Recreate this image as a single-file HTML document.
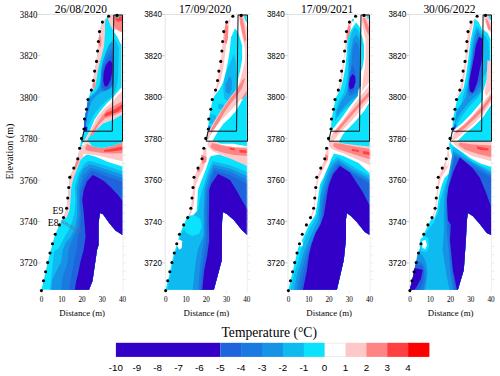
<!DOCTYPE html><html><head><meta charset="utf-8"><style>
html,body{margin:0;padding:0;background:#fff;width:500px;height:376px;overflow:hidden}
svg{display:block}
.serif{font-family:"Liberation Serif",serif}
.sans{font-family:"Liberation Sans",sans-serif}
</style></head><body>
<svg width="500" height="376" viewBox="0 0 500 376">

<g transform="translate(0,0)">
<path d="M41.4,290.6 L43.5,280.8 L45.6,271.7 L47.7,262.6 L50.0,253.0 L52.5,243.8 L55.2,234.3 L59.4,224.9 L63.5,217.6 L66.6,208.2 L67.8,198.0 L68.8,187.5 L69.8,177.2 L73.8,168.1 L77.8,158.8 L79.6,148.3 L81.5,138.4 L84.0,129.0 L84.5,119.0 L86.5,109.2 L88.0,99.5 L91.3,90.1 L93.3,80.5 L94.6,71.1 L96.5,61.4 L97.6,51.0 L98.4,41.5 L99.5,31.6 L102.4,22.1 L108.6,16.2 L108.6,15.2 L122.5,15.2 L122.5,234.9 L115.5,230.5 L109.2,223.0 L103.0,214.2 L99.9,213.0 L98.6,223.0 L98.6,245.0 L97.0,250.0 L92.5,281.0 L89.0,289.8 L41.4,289.8Z" fill="#0ae2fe"/>
<path d="M108.6,16.2 L102.4,22.1 L99.5,31.6 L98.4,41.5 L97.6,51.0 L96.5,61.4 L94.6,71.1 L93.3,80.5 L91.3,90.1 L90.5,92.0 L92.0,91.0 L95.0,88.0 L96.5,80.0 L98.0,70.0 L100.6,60.0 L104.0,46.6 L105.0,33.0 L105.0,25.0 L105.5,18.4 L107.0,16.5Z" fill="#ffc8c8"/>
<path d="M99.5,34.6 L101.3,38.0 L101.3,45.0 L100.0,48.0 L98.6,44.0 L98.6,38.0Z" fill="#ff8585"/>
<path d="M94.2,80.0 L95.5,83.0 L95.0,88.0 L93.4,89.0 L92.8,85.0Z" fill="#ff8585"/>
<path d="M108.0,15.2 L122.5,15.2 L122.5,48.0 L120.4,42.9 L117.0,36.0 L113.5,31.2 L110.1,24.8 L108.0,18.4Z" fill="#ffc8c8"/>
<path d="M114.5,30.0 L118.0,30.0 L122.5,33.0 L122.5,46.0 L120.4,42.9 L117.0,36.0 L114.0,32.0Z" fill="#ffffff"/>
<path d="M113.6,15.2 L122.5,15.2 L122.5,32.3 L119.0,31.0 L115.1,28.0 L113.2,22.0Z" fill="#ff8585"/>
<path d="M115.5,16.5 L122.0,16.5 L122.0,21.0 L118.0,21.5 L115.5,20.0Z" fill="#ff4040"/>
<path d="M116.0,15.5 L119.0,15.5 L118.6,18.0 L117.0,18.6Z" fill="#0ae2fe"/>
<path d="M121.3,40.0 L122.5,40.0 L122.5,88.0 L121.3,88.0Z" fill="#ffc8c8"/>
<path d="M113.3,38.0 L116.0,41.0 L118.8,48.0 L118.0,80.0 L116.0,90.0 L112.0,96.0 L106.0,101.0 L100.0,107.0 L95.0,113.0 L91.0,120.0 L88.0,127.0 L85.5,131.0 L84.2,131.0 L84.5,119.0 L86.5,109.2 L88.0,99.5 L89.5,99.0 L94.0,94.0 L98.0,88.0 L100.5,80.0 L102.0,70.0 L103.6,60.0 L105.5,53.3 L109.0,46.6Z" fill="#0ebaf0"/>
<path d="M110.5,42.5 L113.4,43.0 L113.4,86.0 L110.0,89.0 L106.0,91.0 L101.0,92.0 L96.0,96.0 L92.0,101.0 L89.0,108.0 L87.0,116.0 L85.5,125.0 L84.1,129.0 L84.5,119.0 L86.5,109.2 L88.0,99.5 L89.0,98.0 L92.0,95.0 L97.0,91.0 L100.0,86.0 L100.5,80.0 L101.0,70.0 L102.5,62.0 L105.0,55.0 L108.0,47.0Z" fill="#1594e6"/>
<path d="M111.5,49.0 L113.4,50.0 L113.4,84.0 L110.0,88.0 L106.0,90.5 L102.0,91.0 L100.5,86.0 L101.5,80.0 L101.5,72.0 L103.5,64.0 L107.0,56.0Z" fill="#1a7ae0"/>
<path d="M90.0,104.0 L88.5,110.0 L87.0,118.0 L85.5,127.0 L84.1,129.0 L84.5,119.0 L86.5,109.2 L88.0,101.0Z" fill="#1a7ae0"/>
<path d="M111.5,55.0 L113.4,57.0 L113.4,76.0 L112.0,84.0 L108.5,89.0 L104.5,90.0 L102.0,87.0 L102.0,76.0 L103.5,67.0 L107.0,60.0Z" fill="#1f64dc"/>
<path d="M87.0,118.0 L86.0,125.0 L84.2,129.5 L84.5,121.0Z" fill="#1f64dc"/>
<path d="M110.5,60.5 L112.4,63.5 L112.3,72.0 L110.5,80.0 L107.5,85.9 L104.8,86.5 L103.3,81.0 L103.6,73.0 L105.5,66.0 L108.0,62.0Z" fill="#3300c8"/>
<path d="M84.5,126.0 L87.5,127.5 L87.0,131.0 L84.0,131.0Z" fill="#3300c8"/>
<path d="M122.5,87.0 L120.0,89.0 L113.3,97.0 L106.6,103.6 L100.0,111.6 L94.6,119.6 L90.7,129.0 L87.0,136.0 L83.0,143.0 L81.3,145.0 L84.5,146.0 L88.0,138.0 L92.0,133.0 L96.0,130.3 L102.6,123.6 L113.3,119.6 L122.5,114.3Z" fill="#ffffff"/>
<path d="M122.5,91.0 L120.0,93.0 L112.0,102.3 L104.0,109.0 L97.3,117.0 L93.3,125.0 L89.5,132.0 L85.5,139.0 L83.8,144.0 L85.5,145.0 L88.0,138.0 L92.0,133.0 L96.0,130.3 L102.6,123.6 L113.3,119.6 L122.5,114.3Z" fill="#ffc8c8"/>
<path d="M122.5,101.0 L113.3,106.3 L106.6,110.3 L101.3,117.0 L96.0,125.0 L92.0,131.6 L90.0,135.0 L93.3,135.0 L98.6,125.0 L105.3,118.3 L113.3,115.6 L122.5,111.6Z" fill="#ff8585"/>
<path d="M113.3,110.0 L106.0,113.0 L104.0,116.0 L106.0,116.5 L113.3,113.5 L118.0,112.0 L122.5,108.0 L122.5,104.0Z" fill="#ff4040"/>
<path d="M84.0,144.0 L88.3,141.3 L122.5,141.3 L122.5,166.6 L108.2,162.0 L95.0,156.6 L87.0,154.6 L83.0,157.3 L80.3,160.0 L79.0,150.0Z" fill="#ffffff"/>
<path d="M85.5,144.0 L88.3,142.0 L92.3,146.6 L101.6,148.0 L112.2,146.0 L122.5,142.6 L122.5,161.2 L108.0,158.0 L95.0,155.0 L88.3,154.6 L84.0,154.0 L81.0,152.0 L80.0,148.0Z" fill="#ffc8c8"/>
<path d="M87.0,144.0 L92.3,146.6 L101.6,148.0 L112.2,146.0 L122.5,142.6 L122.5,153.2 L112.2,153.5 L103.9,153.2 L87.2,150.8 L85.0,149.0Z" fill="#ff8585"/>
<path d="M104.0,150.0 L110.0,149.0 L122.5,146.5 L122.5,150.0 L110.0,151.8 L104.0,151.8Z" fill="#ff4040"/>
<path d="M88.3,141.3 L122.5,141.3 L122.5,142.6 L112.2,146.0 L101.6,148.0 L92.3,146.6Z" fill="#0ae2fe"/>
<path d="M79.6,148.3 L82.0,146.0 L84.0,150.0 L83.0,157.3 L80.6,160.0 L76.9,169.4 L73.8,177.5 L72.0,183.8 L71.0,190.0 L70.6,200.0 L69.6,210.0 L66.5,218.0 L63.5,217.6 L66.6,208.2 L67.8,198.0 L68.8,187.5 L69.8,177.2 L73.8,168.1 L77.8,158.8Z" fill="#ffc8c8"/>
<path d="M78.3,156.0 L79.5,160.0 L77.0,166.0 L75.0,170.0 L74.5,167.0 L76.5,160.0Z" fill="#ff8585"/>
<path d="M71.0,174.0 L72.0,176.0 L70.5,180.0 L69.5,179.0Z" fill="#ff8585"/>
<path d="M74.8,186.6 L78.5,173.8 L84.0,164.0 L88.5,161.0 L92.0,161.5 L103.9,165.1 L121.9,171.1 L122.5,171.3 L122.5,234.9 L115.5,230.5 L109.2,223.0 L103.0,214.2 L99.9,213.0 L98.6,223.0 L98.6,245.0 L97.0,250.0 L92.5,281.0 L89.0,289.8 L50.0,289.8 L54.1,251.8 L58.4,248.6 L62.6,241.1 L65.0,236.0 L68.0,231.6 L72.0,222.0 L74.5,212.0 L75.5,200.0Z" fill="#0ebaf0"/>
<path d="M76.9,187.7 L80.0,175.0 L84.0,168.0 L89.1,164.5 L93.0,165.0 L103.9,168.5 L122.5,174.7 L122.5,234.9 L115.5,230.5 L109.2,223.0 L103.0,214.2 L99.9,213.0 L98.6,223.0 L98.6,245.0 L97.0,250.0 L92.5,281.0 L89.0,289.8 L51.4,289.8 L52.4,280.0 L54.8,274.0 L61.2,262.0 L62.8,250.0 L66.0,242.0 L70.0,238.0 L75.0,228.0 L77.0,215.0 L77.0,200.0Z" fill="#1594e6"/>
<path d="M79.0,189.8 L82.8,176.0 L90.2,168.0 L94.0,168.5 L104.0,172.0 L122.5,178.3 L122.5,234.9 L115.5,230.5 L109.2,223.0 L103.0,214.2 L99.9,213.0 L98.6,223.0 L98.6,245.0 L97.0,250.0 L92.5,281.0 L89.0,289.8 L61.2,289.8 L62.0,280.0 L63.6,274.0 L67.6,262.0 L68.4,250.0 L72.0,240.0 L77.5,228.0 L79.5,215.0 L79.0,200.0Z" fill="#1a7ae0"/>
<path d="M80.6,192.0 L84.9,179.0 L91.3,171.0 L95.0,171.5 L104.0,175.5 L122.5,182.0 L122.5,234.9 L115.5,230.5 L109.2,223.0 L103.0,214.2 L99.9,213.0 L98.6,223.0 L98.6,245.0 L97.0,250.0 L92.5,281.0 L89.0,289.8 L69.5,289.8 L70.8,280.0 L71.6,274.0 L74.0,262.0 L76.4,250.0 L78.0,237.0 L80.0,228.0 L81.0,215.0 L80.1,200.0Z" fill="#1f64dc"/>
<path d="M83.8,189.8 L87.0,181.3 L92.9,174.9 L97.0,177.0 L103.9,181.0 L110.5,187.0 L118.0,195.0 L122.5,201.0 L122.5,234.9 L115.5,230.5 L109.2,223.0 L103.0,214.2 L99.9,213.0 L98.6,223.0 L98.6,245.0 L97.0,250.0 L92.5,281.0 L89.0,289.8 L74.8,289.8 L76.4,280.0 L78.0,274.0 L80.4,262.0 L83.6,250.0 L85.5,237.0 L85.0,229.0 L83.5,210.0 L82.2,200.0Z" fill="#3300c8"/>
<line x1="40" y1="14.5" x2="126" y2="14.5" stroke="#d9d9d9" stroke-width="0.8"/>
<line x1="123" y1="14.5" x2="123" y2="291" stroke="#ececec" stroke-width="0.8"/>
<line x1="123" y1="14.3" x2="126" y2="14.3" stroke="#e4e4e4" stroke-width="0.7"/>
<line x1="123" y1="22.6" x2="126" y2="22.6" stroke="#e4e4e4" stroke-width="0.7"/>
<line x1="123" y1="30.9" x2="126" y2="30.9" stroke="#e4e4e4" stroke-width="0.7"/>
<line x1="123" y1="39.2" x2="126" y2="39.2" stroke="#e4e4e4" stroke-width="0.7"/>
<line x1="123" y1="47.5" x2="126" y2="47.5" stroke="#e4e4e4" stroke-width="0.7"/>
<line x1="123" y1="55.7" x2="126" y2="55.7" stroke="#e4e4e4" stroke-width="0.7"/>
<line x1="123" y1="64.0" x2="126" y2="64.0" stroke="#e4e4e4" stroke-width="0.7"/>
<line x1="123" y1="72.3" x2="126" y2="72.3" stroke="#e4e4e4" stroke-width="0.7"/>
<line x1="123" y1="80.6" x2="126" y2="80.6" stroke="#e4e4e4" stroke-width="0.7"/>
<line x1="123" y1="88.9" x2="126" y2="88.9" stroke="#e4e4e4" stroke-width="0.7"/>
<line x1="123" y1="97.2" x2="126" y2="97.2" stroke="#e4e4e4" stroke-width="0.7"/>
<line x1="123" y1="105.5" x2="126" y2="105.5" stroke="#e4e4e4" stroke-width="0.7"/>
<line x1="123" y1="113.8" x2="126" y2="113.8" stroke="#e4e4e4" stroke-width="0.7"/>
<line x1="123" y1="122.0" x2="126" y2="122.0" stroke="#e4e4e4" stroke-width="0.7"/>
<line x1="123" y1="130.3" x2="126" y2="130.3" stroke="#e4e4e4" stroke-width="0.7"/>
<line x1="123" y1="138.6" x2="126" y2="138.6" stroke="#e4e4e4" stroke-width="0.7"/>
<line x1="123" y1="146.9" x2="126" y2="146.9" stroke="#e4e4e4" stroke-width="0.7"/>
<line x1="123" y1="155.2" x2="126" y2="155.2" stroke="#e4e4e4" stroke-width="0.7"/>
<line x1="123" y1="163.5" x2="126" y2="163.5" stroke="#e4e4e4" stroke-width="0.7"/>
<line x1="123" y1="171.8" x2="126" y2="171.8" stroke="#e4e4e4" stroke-width="0.7"/>
<line x1="123" y1="180.1" x2="126" y2="180.1" stroke="#e4e4e4" stroke-width="0.7"/>
<line x1="123" y1="188.3" x2="126" y2="188.3" stroke="#e4e4e4" stroke-width="0.7"/>
<line x1="123" y1="196.6" x2="126" y2="196.6" stroke="#e4e4e4" stroke-width="0.7"/>
<line x1="123" y1="204.9" x2="126" y2="204.9" stroke="#e4e4e4" stroke-width="0.7"/>
<line x1="123" y1="213.2" x2="126" y2="213.2" stroke="#e4e4e4" stroke-width="0.7"/>
<line x1="123" y1="221.5" x2="126" y2="221.5" stroke="#e4e4e4" stroke-width="0.7"/>
<line x1="123" y1="229.8" x2="126" y2="229.8" stroke="#e4e4e4" stroke-width="0.7"/>
<line x1="123" y1="238.1" x2="126" y2="238.1" stroke="#e4e4e4" stroke-width="0.7"/>
<line x1="123" y1="246.4" x2="126" y2="246.4" stroke="#e4e4e4" stroke-width="0.7"/>
<line x1="123" y1="254.7" x2="126" y2="254.7" stroke="#e4e4e4" stroke-width="0.7"/>
<line x1="123" y1="262.9" x2="126" y2="262.9" stroke="#e4e4e4" stroke-width="0.7"/>
<line x1="123" y1="271.2" x2="126" y2="271.2" stroke="#e4e4e4" stroke-width="0.7"/>
<line x1="123" y1="279.5" x2="126" y2="279.5" stroke="#e4e4e4" stroke-width="0.7"/>
<line x1="41.5" y1="290.5" x2="41.5" y2="293" stroke="#e8e8e8" stroke-width="0.6"/>
<line x1="61.8" y1="290.5" x2="61.8" y2="293" stroke="#e8e8e8" stroke-width="0.6"/>
<line x1="82.0" y1="290.5" x2="82.0" y2="293" stroke="#e8e8e8" stroke-width="0.6"/>
<line x1="102.2" y1="290.5" x2="102.2" y2="293" stroke="#e8e8e8" stroke-width="0.6"/>
<line x1="122.5" y1="290.5" x2="122.5" y2="293" stroke="#e8e8e8" stroke-width="0.6"/>
<line x1="37.5" y1="14.3" x2="40.5" y2="14.3" stroke="#bbb" stroke-width="0.7"/>
<text class="serif" x="37.3" y="17.7" font-size="10.2" text-anchor="end" textLength="17.5" lengthAdjust="spacingAndGlyphs">3840</text>
<line x1="37.5" y1="55.7" x2="40.5" y2="55.7" stroke="#bbb" stroke-width="0.7"/>
<text class="serif" x="37.3" y="59.1" font-size="10.2" text-anchor="end" textLength="17.5" lengthAdjust="spacingAndGlyphs">3820</text>
<line x1="37.5" y1="97.2" x2="40.5" y2="97.2" stroke="#bbb" stroke-width="0.7"/>
<text class="serif" x="37.3" y="100.6" font-size="10.2" text-anchor="end" textLength="17.5" lengthAdjust="spacingAndGlyphs">3800</text>
<line x1="37.5" y1="138.6" x2="40.5" y2="138.6" stroke="#bbb" stroke-width="0.7"/>
<text class="serif" x="37.3" y="142.0" font-size="10.2" text-anchor="end" textLength="17.5" lengthAdjust="spacingAndGlyphs">3780</text>
<line x1="37.5" y1="180.1" x2="40.5" y2="180.1" stroke="#bbb" stroke-width="0.7"/>
<text class="serif" x="37.3" y="183.5" font-size="10.2" text-anchor="end" textLength="17.5" lengthAdjust="spacingAndGlyphs">3760</text>
<line x1="37.5" y1="221.5" x2="40.5" y2="221.5" stroke="#bbb" stroke-width="0.7"/>
<text class="serif" x="37.3" y="224.9" font-size="10.2" text-anchor="end" textLength="17.5" lengthAdjust="spacingAndGlyphs">3740</text>
<line x1="37.5" y1="262.9" x2="40.5" y2="262.9" stroke="#bbb" stroke-width="0.7"/>
<text class="serif" x="37.3" y="266.3" font-size="10.2" text-anchor="end" textLength="17.5" lengthAdjust="spacingAndGlyphs">3720</text>
<text class="serif" x="0" y="0" font-size="8" text-anchor="middle" transform="translate(41.50,301.8) scale(0.9,1)">0</text>
<text class="serif" x="0" y="0" font-size="8" text-anchor="middle" transform="translate(61.75,301.8) scale(0.9,1)">10</text>
<text class="serif" x="0" y="0" font-size="8" text-anchor="middle" transform="translate(82.00,301.8) scale(0.9,1)">20</text>
<text class="serif" x="0" y="0" font-size="8" text-anchor="middle" transform="translate(102.25,301.8) scale(0.9,1)">30</text>
<text class="serif" x="0" y="0" font-size="8" text-anchor="middle" transform="translate(122.50,301.8) scale(0.9,1)">40</text>
<text class="serif" x="82.2" y="315.8" font-size="8.8" text-anchor="middle">Distance (m)</text>
<text class="serif" x="54.8" y="13.4" font-size="13" textLength="52.2" lengthAdjust="spacingAndGlyphs">26/08/2020</text>
<path d="M113.8,15 L122.5,15 L122.5,141.2 L82,141.2 M113.8,15 L112.3,131.2 L83.8,131.2 L81.9,141.2" fill="none" stroke="#111" stroke-width="1"/>
<text class="serif" x="52.5" y="214" font-size="9.8" textLength="10.7" lengthAdjust="spacingAndGlyphs">E9</text>
<text class="serif" x="47.8" y="226" font-size="9.8" textLength="10.7" lengthAdjust="spacingAndGlyphs">E8</text>
<circle cx="62.00" cy="221.50" r="1.2" fill="none" stroke="#5d6c98" stroke-width="0.55"/>
<circle cx="64.50" cy="222.93" r="1.2" fill="none" stroke="#5d6c98" stroke-width="0.55"/>
<circle cx="67.00" cy="224.36" r="1.2" fill="none" stroke="#5d6c98" stroke-width="0.55"/>
<circle cx="69.50" cy="225.79" r="1.2" fill="none" stroke="#5d6c98" stroke-width="0.55"/>
<circle cx="72.00" cy="227.21" r="1.2" fill="none" stroke="#5d6c98" stroke-width="0.55"/>
<circle cx="74.50" cy="228.64" r="1.2" fill="none" stroke="#5d6c98" stroke-width="0.55"/>
<circle cx="77.00" cy="230.07" r="1.2" fill="none" stroke="#5d6c98" stroke-width="0.55"/>
<circle cx="79.50" cy="231.50" r="1.2" fill="none" stroke="#5d6c98" stroke-width="0.55"/>
<circle cx="108.6" cy="16.25" r="1.55" fill="#000"/>
<circle cx="117" cy="15.4" r="1.55" fill="#000"/>
<circle cx="102.4" cy="22.1" r="1.55" fill="#000"/>
<circle cx="99.5" cy="31.6" r="1.55" fill="#000"/>
<circle cx="98.4" cy="41.5" r="1.55" fill="#000"/>
<circle cx="97.6" cy="51" r="1.55" fill="#000"/>
<circle cx="96.5" cy="61.4" r="1.55" fill="#000"/>
<circle cx="94.6" cy="71.1" r="1.55" fill="#000"/>
<circle cx="93.3" cy="80.5" r="1.55" fill="#000"/>
<circle cx="91.3" cy="90.1" r="1.55" fill="#000"/>
<circle cx="88" cy="99.5" r="1.55" fill="#000"/>
<circle cx="86.5" cy="109.25" r="1.55" fill="#000"/>
<circle cx="84.5" cy="119" r="1.55" fill="#000"/>
<circle cx="84" cy="129" r="1.55" fill="#000"/>
<circle cx="81.5" cy="138.4" r="1.55" fill="#000"/>
<circle cx="79.6" cy="148.3" r="1.55" fill="#000"/>
<circle cx="77.75" cy="158.75" r="1.55" fill="#000"/>
<circle cx="73.75" cy="168.1" r="1.55" fill="#000"/>
<circle cx="69.75" cy="177.25" r="1.55" fill="#000"/>
<circle cx="68.75" cy="187.5" r="1.55" fill="#000"/>
<circle cx="67.75" cy="198" r="1.55" fill="#000"/>
<circle cx="66.6" cy="208.25" r="1.55" fill="#000"/>
<circle cx="63.5" cy="217.6" r="1.55" fill="#000"/>
<circle cx="59.4" cy="224.9" r="1.55" fill="#000"/>
<circle cx="55.25" cy="234.3" r="1.55" fill="#000"/>
<circle cx="52.5" cy="243.75" r="1.55" fill="#000"/>
<circle cx="50" cy="253" r="1.55" fill="#000"/>
<circle cx="47.7" cy="262.6" r="1.55" fill="#000"/>
<circle cx="45.6" cy="271.7" r="1.55" fill="#000"/>
<circle cx="43.5" cy="280.8" r="1.55" fill="#000"/>
<circle cx="41.4" cy="290.6" r="1.55" fill="#000"/>
</g>
<g transform="translate(124.25,0)">
<path d="M41.4,290.6 L43.5,280.8 L45.6,271.7 L47.7,262.6 L50.0,253.0 L52.5,243.8 L55.2,234.3 L59.4,224.9 L63.5,217.6 L66.6,208.2 L67.8,198.0 L68.8,187.5 L69.8,177.2 L73.8,168.1 L77.8,158.8 L79.6,148.3 L81.5,138.4 L84.0,129.0 L84.5,119.0 L86.5,109.2 L88.0,99.5 L91.3,90.1 L93.3,80.5 L94.6,71.1 L96.5,61.4 L97.6,51.0 L98.4,41.5 L99.5,31.6 L102.4,22.1 L108.6,16.2 L108.6,15.2 L122.5,15.2 L122.5,235.0 L117.6,230.0 L109.6,220.0 L102.6,214.0 L98.6,212.0 L97.8,222.0 L97.6,240.0 L97.6,260.0 L89.6,289.8 L41.4,289.8Z" fill="#ffffff"/>
<path d="M108.6,16.2 L102.4,22.1 L99.5,31.6 L98.4,41.5 L97.6,51.0 L96.5,61.4 L94.6,71.1 L93.3,80.5 L91.3,90.1 L88.0,97.0 L89.5,95.0 L93.0,89.0 L96.0,82.0 L98.8,69.5 L100.5,57.0 L102.0,45.0 L103.8,35.0 L104.5,25.0 L107.0,17.0Z" fill="#ffc8c8"/>
<path d="M101.5,22.0 L104.0,27.0 L103.8,38.0 L102.3,44.0 L100.2,42.5 L100.2,30.0Z" fill="#ff8585"/>
<path d="M110.7,28.6 L113.0,31.0 L115.0,36.0 L117.8,45.0 L117.8,60.0 L115.8,70.8 L113.5,80.0 L112.5,92.0 L110.0,97.0 L107.0,101.0 L104.6,104.0 L100.0,109.0 L96.5,116.5 L90.2,129.0 L85.2,136.5 L82.8,141.5 L81.5,138.4 L84.0,129.0 L84.5,119.0 L86.5,109.2 L88.4,99.5 L90.2,95.8 L95.2,89.5 L99.0,82.0 L101.5,72.0 L103.0,65.0 L104.6,57.0 L105.5,50.0 L106.8,37.5Z" fill="#0ae2fe"/>
<path d="M109.5,54.0 L111.5,62.0 L111.8,75.0 L111.5,88.0 L109.4,96.0 L104.0,101.0 L100.2,99.0 L99.1,90.0 L99.5,82.0 L102.0,72.0 L106.0,63.0Z" fill="#0ebaf0"/>
<path d="M105.5,76.0 L107.5,80.0 L107.5,89.0 L105.0,94.3 L101.5,92.0 L101.5,84.0Z" fill="#1594e6"/>
<path d="M94.0,104.0 L98.0,103.5 L100.0,106.0 L97.0,109.0 L94.0,109.0Z" fill="#0ebaf0"/>
<path d="M86.0,114.0 L91.0,115.0 L92.8,119.0 L90.0,124.0 L85.5,124.0Z" fill="#0ebaf0"/>
<path d="M84.3,125.0 L86.5,127.0 L86.0,131.0 L84.0,131.0Z" fill="#1f64dc"/>
<path d="M114.5,15.2 L119.6,15.2 L119.6,18.4 L122.8,28.6 L122.8,50.0 L120.9,50.3 L118.3,37.5 L114.5,17.0Z" fill="#ffc8c8"/>
<path d="M115.5,16.0 L118.0,17.0 L120.0,26.0 L122.0,40.0 L120.5,42.0 L118.0,33.0 L116.0,23.0Z" fill="#ff8585"/>
<path d="M119.6,15.2 L122.8,15.2 L122.8,23.0 L120.5,20.0Z" fill="#0ae2fe"/>
<path d="M120.9,50.3 L122.8,50.0 L122.8,101.0 L118.0,100.0 L113.5,99.0 L113.0,95.0 L114.0,88.0 L116.0,80.0 L118.0,72.0 L120.5,62.0Z" fill="#ffc8c8"/>
<path d="M122.8,74.6 L122.8,98.0 L118.0,99.0 L114.5,97.0 L115.0,92.0 L118.3,87.4 L121.0,80.0Z" fill="#ff8585"/>
<path d="M119.0,91.5 L121.0,91.0 L120.5,94.0 L118.5,94.5Z" fill="#ff4040"/>
<path d="M117.0,101.0 L122.8,100.0 L122.8,106.0 L117.0,106.0Z" fill="#0ae2fe"/>
<path d="M122.8,93.6 L122.8,141.2 L88.0,141.2 L90.9,136.2 L94.0,131.0 L99.4,123.4 L105.0,118.5 L112.1,110.6 L117.0,102.0Z" fill="#0ae2fe"/>
<path d="M120.6,72.3 L122.8,70.0 L122.8,90.0 L117.0,99.0 L110.2,106.6 L103.0,114.0 L96.9,119.9 L89.0,130.5 L85.0,137.0 L83.0,141.2 L82.3,141.2 L82.3,136.2 L88.7,123.4 L94.0,115.0 L99.4,106.4 L106.0,97.0 L112.1,89.4 L116.0,82.0Z" fill="#ffc8c8"/>
<path d="M118.0,80.0 L121.0,78.0 L118.0,88.0 L112.0,97.0 L106.0,104.0 L101.0,111.0 L94.0,123.0 L88.0,131.5 L86.3,133.2 L87.0,129.0 L92.0,120.0 L98.0,110.0 L104.0,101.0 L111.0,92.0Z" fill="#ff8585"/>
<path d="M90.2,141.2 L123.0,141.2 L123.0,146.2 L109.0,143.8 L96.5,143.8Z" fill="#0ae2fe"/>
<path d="M84.0,140.5 L90.2,141.2 L96.5,144.5 L109.0,146.9 L123.0,147.0 L123.0,166.2 L110.0,162.0 L100.0,156.0 L90.0,152.0 L86.0,149.0 L83.0,145.0Z" fill="#ffc8c8"/>
<path d="M88.0,143.0 L100.0,146.0 L115.0,148.0 L123.0,148.5 L123.0,156.0 L110.0,155.0 L100.0,153.0 L90.0,150.0 L86.0,147.0Z" fill="#ff8585"/>
<path d="M115.2,150.0 L122.8,150.5 L122.8,153.0 L115.2,152.5Z" fill="#ff4040"/>
<path d="M105.5,147.5 L110.5,148.5 L110.5,150.5 L105.5,149.5Z" fill="#ff4040"/>
<path d="M79.6,148.3 L77.8,158.8 L73.8,168.1 L69.8,177.2 L68.8,187.5 L67.8,198.0 L66.6,208.2 L63.5,217.6 L64.5,218.0 L67.5,212.0 L69.5,205.0 L71.5,185.2 L74.5,177.2 L79.0,169.3 L82.0,160.0 L82.5,148.0Z" fill="#ffc8c8"/>
<path d="M77.0,154.6 L82.4,157.0 L82.0,162.0 L78.0,164.0 L77.5,160.0Z" fill="#ff8585"/>
<path d="M73.0,168.0 L76.4,169.0 L75.0,172.0 L73.0,172.0Z" fill="#ff8585"/>
<path d="M87.0,156.0 L95.0,154.6 L105.8,158.6 L123.0,166.0 L123.0,235.0 L117.6,230.0 L109.6,220.0 L102.6,214.0 L98.6,212.0 L97.8,222.0 L97.6,240.0 L97.6,260.0 L89.6,289.8 L41.4,289.8 L43.5,281.2 L45.6,272.0 L47.6,262.5 L49.7,253.4 L52.8,244.1 L55.4,234.6 L59.1,225.6 L63.6,217.9 L70.5,219.0 L72.7,210.0 L73.7,190.0 L76.4,182.6 L81.7,169.3 L85.7,157.3Z" fill="#0ae2fe"/>
<path d="M80.0,183.9 L84.0,170.6 L88.4,161.3 L105.8,165.3 L123.0,172.0 L123.0,235.0 L117.6,230.0 L109.6,220.0 L102.6,214.0 L98.6,212.0 L97.8,222.0 L97.6,240.0 L97.6,260.0 L89.6,289.8 L43.0,289.8 L45.0,281.0 L47.0,272.0 L49.0,262.5 L51.0,253.4 L54.0,244.0 L57.0,235.0 L61.0,226.0 L65.0,219.0 L74.0,210.0 L75.5,200.0 L78.0,190.0Z" fill="#0ebaf0"/>
<path d="M63.0,216.0 L70.0,215.0 L76.0,219.0 L77.7,226.0 L75.0,233.8 L68.0,236.0 L62.0,233.0 L59.0,227.0Z" fill="#0ae2fe"/>
<path d="M52.5,240.5 L55.0,239.5 L58.0,241.0 L57.5,248.0 L55.0,249.7 L53.0,246.0Z" fill="#ffffff"/>
<path d="M80.5,188.0 L84.0,176.0 L89.0,164.5 L105.8,168.5 L123.0,176.0 L123.0,235.0 L117.6,230.0 L109.6,220.0 L102.6,214.0 L98.6,212.0 L97.8,222.0 L97.6,240.0 L97.6,260.0 L89.6,289.8 L68.4,289.8 L70.0,275.0 L71.5,262.0 L73.5,250.0 L79.3,235.0 L79.3,210.0 L80.0,195.0Z" fill="#1594e6"/>
<path d="M82.0,190.0 L85.0,179.0 L89.5,167.5 L105.8,171.5 L123.0,180.0 L123.0,235.0 L117.6,230.0 L109.6,220.0 L102.6,214.0 L98.6,212.0 L97.8,222.0 L97.6,240.0 L97.6,260.0 L89.6,289.8 L73.9,289.8 L75.0,275.0 L76.5,262.0 L78.0,250.0 L80.6,235.0 L80.6,210.0 L81.5,195.0Z" fill="#1a7ae0"/>
<path d="M83.5,190.0 L86.0,181.0 L90.0,170.5 L105.8,175.0 L123.0,184.0 L123.0,235.0 L117.6,230.0 L109.6,220.0 L102.6,214.0 L98.6,212.0 L97.8,222.0 L97.6,240.0 L97.6,260.0 L89.6,289.8 L76.0,289.8 L77.5,275.0 L79.0,262.0 L81.0,250.0 L82.6,235.0 L82.6,210.0 L83.0,195.0Z" fill="#1f64dc"/>
<path d="M93.7,173.9 L100.0,177.0 L105.8,180.0 L112.0,190.0 L117.6,200.0 L123.6,210.0 L123.0,235.0 L117.6,230.0 L109.6,220.0 L102.6,214.0 L98.6,212.0 L97.8,222.0 L97.6,240.0 L97.6,260.0 L89.6,289.8 L78.0,289.8 L80.0,270.0 L83.0,255.0 L85.0,240.0 L84.6,220.0 L85.0,200.0 L85.0,190.0 L87.0,183.9Z" fill="#3300c8"/>
<line x1="41" y1="14.5" x2="41" y2="291" stroke="#e6e6e6" stroke-width="1"/>
<line x1="40" y1="14.5" x2="126" y2="14.5" stroke="#d9d9d9" stroke-width="0.8"/>
<line x1="123" y1="14.5" x2="123" y2="291" stroke="#ececec" stroke-width="0.8"/>
<line x1="123" y1="14.3" x2="126" y2="14.3" stroke="#e4e4e4" stroke-width="0.7"/>
<line x1="123" y1="22.6" x2="126" y2="22.6" stroke="#e4e4e4" stroke-width="0.7"/>
<line x1="123" y1="30.9" x2="126" y2="30.9" stroke="#e4e4e4" stroke-width="0.7"/>
<line x1="123" y1="39.2" x2="126" y2="39.2" stroke="#e4e4e4" stroke-width="0.7"/>
<line x1="123" y1="47.5" x2="126" y2="47.5" stroke="#e4e4e4" stroke-width="0.7"/>
<line x1="123" y1="55.7" x2="126" y2="55.7" stroke="#e4e4e4" stroke-width="0.7"/>
<line x1="123" y1="64.0" x2="126" y2="64.0" stroke="#e4e4e4" stroke-width="0.7"/>
<line x1="123" y1="72.3" x2="126" y2="72.3" stroke="#e4e4e4" stroke-width="0.7"/>
<line x1="123" y1="80.6" x2="126" y2="80.6" stroke="#e4e4e4" stroke-width="0.7"/>
<line x1="123" y1="88.9" x2="126" y2="88.9" stroke="#e4e4e4" stroke-width="0.7"/>
<line x1="123" y1="97.2" x2="126" y2="97.2" stroke="#e4e4e4" stroke-width="0.7"/>
<line x1="123" y1="105.5" x2="126" y2="105.5" stroke="#e4e4e4" stroke-width="0.7"/>
<line x1="123" y1="113.8" x2="126" y2="113.8" stroke="#e4e4e4" stroke-width="0.7"/>
<line x1="123" y1="122.0" x2="126" y2="122.0" stroke="#e4e4e4" stroke-width="0.7"/>
<line x1="123" y1="130.3" x2="126" y2="130.3" stroke="#e4e4e4" stroke-width="0.7"/>
<line x1="123" y1="138.6" x2="126" y2="138.6" stroke="#e4e4e4" stroke-width="0.7"/>
<line x1="123" y1="146.9" x2="126" y2="146.9" stroke="#e4e4e4" stroke-width="0.7"/>
<line x1="123" y1="155.2" x2="126" y2="155.2" stroke="#e4e4e4" stroke-width="0.7"/>
<line x1="123" y1="163.5" x2="126" y2="163.5" stroke="#e4e4e4" stroke-width="0.7"/>
<line x1="123" y1="171.8" x2="126" y2="171.8" stroke="#e4e4e4" stroke-width="0.7"/>
<line x1="123" y1="180.1" x2="126" y2="180.1" stroke="#e4e4e4" stroke-width="0.7"/>
<line x1="123" y1="188.3" x2="126" y2="188.3" stroke="#e4e4e4" stroke-width="0.7"/>
<line x1="123" y1="196.6" x2="126" y2="196.6" stroke="#e4e4e4" stroke-width="0.7"/>
<line x1="123" y1="204.9" x2="126" y2="204.9" stroke="#e4e4e4" stroke-width="0.7"/>
<line x1="123" y1="213.2" x2="126" y2="213.2" stroke="#e4e4e4" stroke-width="0.7"/>
<line x1="123" y1="221.5" x2="126" y2="221.5" stroke="#e4e4e4" stroke-width="0.7"/>
<line x1="123" y1="229.8" x2="126" y2="229.8" stroke="#e4e4e4" stroke-width="0.7"/>
<line x1="123" y1="238.1" x2="126" y2="238.1" stroke="#e4e4e4" stroke-width="0.7"/>
<line x1="123" y1="246.4" x2="126" y2="246.4" stroke="#e4e4e4" stroke-width="0.7"/>
<line x1="123" y1="254.7" x2="126" y2="254.7" stroke="#e4e4e4" stroke-width="0.7"/>
<line x1="123" y1="262.9" x2="126" y2="262.9" stroke="#e4e4e4" stroke-width="0.7"/>
<line x1="123" y1="271.2" x2="126" y2="271.2" stroke="#e4e4e4" stroke-width="0.7"/>
<line x1="123" y1="279.5" x2="126" y2="279.5" stroke="#e4e4e4" stroke-width="0.7"/>
<line x1="41.5" y1="290.5" x2="41.5" y2="293" stroke="#e8e8e8" stroke-width="0.6"/>
<line x1="61.8" y1="290.5" x2="61.8" y2="293" stroke="#e8e8e8" stroke-width="0.6"/>
<line x1="82.0" y1="290.5" x2="82.0" y2="293" stroke="#e8e8e8" stroke-width="0.6"/>
<line x1="102.2" y1="290.5" x2="102.2" y2="293" stroke="#e8e8e8" stroke-width="0.6"/>
<line x1="122.5" y1="290.5" x2="122.5" y2="293" stroke="#e8e8e8" stroke-width="0.6"/>
<line x1="37.5" y1="14.3" x2="40.5" y2="14.3" stroke="#bbb" stroke-width="0.7"/>
<text class="sans" x="0" y="0" font-size="8.7" text-anchor="end" transform="translate(37.65,17.40) scale(0.92,1)">3840</text>
<line x1="37.5" y1="55.7" x2="40.5" y2="55.7" stroke="#bbb" stroke-width="0.7"/>
<text class="sans" x="0" y="0" font-size="8.7" text-anchor="end" transform="translate(37.65,58.84) scale(0.92,1)">3820</text>
<line x1="37.5" y1="97.2" x2="40.5" y2="97.2" stroke="#bbb" stroke-width="0.7"/>
<text class="sans" x="0" y="0" font-size="8.7" text-anchor="end" transform="translate(37.65,100.28) scale(0.92,1)">3800</text>
<line x1="37.5" y1="138.6" x2="40.5" y2="138.6" stroke="#bbb" stroke-width="0.7"/>
<text class="sans" x="0" y="0" font-size="8.7" text-anchor="end" transform="translate(37.65,141.72) scale(0.92,1)">3780</text>
<line x1="37.5" y1="180.1" x2="40.5" y2="180.1" stroke="#bbb" stroke-width="0.7"/>
<text class="sans" x="0" y="0" font-size="8.7" text-anchor="end" transform="translate(37.65,183.16) scale(0.92,1)">3760</text>
<line x1="37.5" y1="221.5" x2="40.5" y2="221.5" stroke="#bbb" stroke-width="0.7"/>
<text class="sans" x="0" y="0" font-size="8.7" text-anchor="end" transform="translate(37.65,224.60) scale(0.92,1)">3740</text>
<line x1="37.5" y1="262.9" x2="40.5" y2="262.9" stroke="#bbb" stroke-width="0.7"/>
<text class="sans" x="0" y="0" font-size="8.7" text-anchor="end" transform="translate(37.65,266.04) scale(0.92,1)">3720</text>
<text class="serif" x="0" y="0" font-size="8" text-anchor="middle" transform="translate(41.50,301.8) scale(0.9,1)">0</text>
<text class="serif" x="0" y="0" font-size="8" text-anchor="middle" transform="translate(61.75,301.8) scale(0.9,1)">10</text>
<text class="serif" x="0" y="0" font-size="8" text-anchor="middle" transform="translate(82.00,301.8) scale(0.9,1)">20</text>
<text class="serif" x="0" y="0" font-size="8" text-anchor="middle" transform="translate(102.25,301.8) scale(0.9,1)">30</text>
<text class="serif" x="0" y="0" font-size="8" text-anchor="middle" transform="translate(122.50,301.8) scale(0.9,1)">40</text>
<text class="serif" x="82.2" y="315.8" font-size="8.8" text-anchor="middle">Distance (m)</text>
<text class="serif" x="54.8" y="13.4" font-size="13" textLength="52.2" lengthAdjust="spacingAndGlyphs">17/09/2020</text>
<path d="M113.8,15 L123.25,15 L123.25,141.2 L82,141.2 M113.8,15 L112.3,131.2 L83.8,131.2 L81.9,141.2" fill="none" stroke="#111" stroke-width="1"/>
<circle cx="108.6" cy="16.25" r="1.55" fill="#000"/>
<circle cx="117" cy="15.4" r="1.55" fill="#000"/>
<circle cx="102.4" cy="22.1" r="1.55" fill="#000"/>
<circle cx="99.5" cy="31.6" r="1.55" fill="#000"/>
<circle cx="98.4" cy="41.5" r="1.55" fill="#000"/>
<circle cx="97.6" cy="51" r="1.55" fill="#000"/>
<circle cx="96.5" cy="61.4" r="1.55" fill="#000"/>
<circle cx="94.6" cy="71.1" r="1.55" fill="#000"/>
<circle cx="93.3" cy="80.5" r="1.55" fill="#000"/>
<circle cx="91.3" cy="90.1" r="1.55" fill="#000"/>
<circle cx="88" cy="99.5" r="1.55" fill="#000"/>
<circle cx="86.5" cy="109.25" r="1.55" fill="#000"/>
<circle cx="84.5" cy="119" r="1.55" fill="#000"/>
<circle cx="84" cy="129" r="1.55" fill="#000"/>
<circle cx="81.5" cy="138.4" r="1.55" fill="#000"/>
<circle cx="79.6" cy="148.3" r="1.55" fill="#000"/>
<circle cx="77.75" cy="158.75" r="1.55" fill="#000"/>
<circle cx="73.75" cy="168.1" r="1.55" fill="#000"/>
<circle cx="69.75" cy="177.25" r="1.55" fill="#000"/>
<circle cx="68.75" cy="187.5" r="1.55" fill="#000"/>
<circle cx="67.75" cy="198" r="1.55" fill="#000"/>
<circle cx="66.6" cy="208.25" r="1.55" fill="#000"/>
<circle cx="63.5" cy="217.6" r="1.55" fill="#000"/>
<circle cx="59.4" cy="224.9" r="1.55" fill="#000"/>
<circle cx="55.25" cy="234.3" r="1.55" fill="#000"/>
<circle cx="52.5" cy="243.75" r="1.55" fill="#000"/>
<circle cx="50" cy="253" r="1.55" fill="#000"/>
<circle cx="47.7" cy="262.6" r="1.55" fill="#000"/>
<circle cx="45.6" cy="271.7" r="1.55" fill="#000"/>
<circle cx="43.5" cy="280.8" r="1.55" fill="#000"/>
<circle cx="41.4" cy="290.6" r="1.55" fill="#000"/>
</g>
<g transform="translate(247,0)">
<path d="M41.4,290.6 L43.5,280.8 L45.6,271.7 L47.7,262.6 L50.0,253.0 L52.5,243.8 L55.2,234.3 L59.4,224.9 L63.5,217.6 L66.6,208.2 L67.8,198.0 L68.8,187.5 L69.8,177.2 L73.8,168.1 L77.8,158.8 L79.6,148.3 L81.5,138.4 L84.0,129.0 L84.5,119.0 L86.5,109.2 L88.0,99.5 L91.3,90.1 L93.3,80.5 L94.6,71.1 L96.5,61.4 L97.6,51.0 L98.4,41.5 L99.5,31.6 L102.4,22.1 L108.6,16.2 L108.6,15.2 L122.5,15.2 L122.8,234.9 L117.8,231.9 L109.8,221.9 L103.9,215.9 L99.9,212.9 L98.9,219.9 L98.9,239.8 L96.8,260.0 L89.9,289.8 L41.4,289.8Z" fill="#ffffff"/>
<path d="M108.6,16.2 L102.4,22.1 L99.5,31.6 L98.4,41.5 L97.6,51.0 L96.5,61.4 L94.6,71.1 L93.3,80.5 L91.3,90.1 L88.0,97.0 L90.0,94.0 L92.6,90.8 L95.1,82.0 L97.6,57.0 L99.5,50.0 L101.4,41.2 L103.9,26.2 L106.5,18.0Z" fill="#ffc8c8"/>
<path d="M101.5,24.0 L103.6,27.0 L102.6,36.0 L101.0,41.0 L99.8,38.0 L100.2,30.0Z" fill="#ff8585"/>
<path d="M109.0,22.4 L112.0,26.0 L113.9,30.0 L113.9,98.0 L109.2,104.0 L103.0,111.5 L93.0,124.0 L85.5,134.0 L83.0,141.5 L81.5,138.4 L84.0,129.0 L84.5,119.0 L86.5,109.2 L88.6,98.2 L93.4,89.5 L96.0,80.0 L98.2,68.0 L99.5,55.0 L100.6,39.2 L104.0,30.0Z" fill="#0ae2fe"/>
<path d="M105.0,19.0 L107.0,19.0 L106.5,21.5 L105.0,21.5Z" fill="#0ae2fe"/>
<path d="M107.8,27.2 L111.0,30.0 L113.9,36.0 L113.9,96.0 L110.0,100.0 L104.0,104.0 L97.0,110.0 L92.0,116.0 L88.0,121.0 L88.5,112.0 L91.0,103.0 L97.0,92.0 L99.5,82.0 L100.6,75.0 L101.0,60.0 L101.8,44.0 L104.5,33.0Z" fill="#0ebaf0"/>
<path d="M109.0,34.4 L112.0,38.0 L113.9,44.0 L113.9,92.0 L110.0,96.0 L104.0,100.0 L98.0,106.0 L93.0,112.0 L89.5,117.0 L90.0,110.0 L94.0,102.0 L98.5,95.0 L100.6,89.5 L101.8,72.8 L102.5,60.0 L104.2,48.8 L106.0,39.0Z" fill="#1594e6"/>
<path d="M108.0,41.6 L111.0,44.0 L112.6,50.0 L112.6,85.0 L110.0,92.0 L106.0,95.0 L102.0,96.0 L101.5,90.0 L103.0,80.0 L104.5,65.0 L105.4,50.0Z" fill="#1a7ae0"/>
<path d="M105.0,65.0 L108.0,70.0 L109.0,80.0 L107.0,90.0 L103.0,93.0 L101.0,90.0 L102.0,78.0Z" fill="#1f64dc"/>
<path d="M105.5,74.0 L108.0,76.0 L108.5,82.0 L106.5,88.0 L103.0,89.5 L101.8,85.0 L103.0,78.0Z" fill="#3300c8"/>
<path d="M113.8,34.0 L115.0,36.0 L117.0,45.0 L117.0,58.0 L115.5,68.0 L113.8,72.0Z" fill="#0ae2fe"/>
<path d="M114.5,15.2 L120.0,15.2 L122.4,22.0 L122.4,50.0 L120.0,45.0 L117.0,33.0 L115.0,22.0Z" fill="#ffc8c8"/>
<path d="M115.8,18.4 L118.0,18.0 L122.2,28.0 L122.2,36.0 L119.0,30.0Z" fill="#ff8585"/>
<path d="M119.6,15.2 L122.4,15.2 L122.4,19.0 L120.5,18.5Z" fill="#0ae2fe"/>
<path d="M118.5,40.0 L122.4,44.0 L122.4,84.0 L118.0,89.0 L114.5,94.0 L116.0,80.0 L118.0,66.0 L118.5,55.0Z" fill="#ffc8c8"/>
<path d="M111.5,90.0 L113.8,86.0 L113.8,104.0 L110.0,104.0Z" fill="#ffffff"/>
<path d="M122.8,100.0 L122.8,141.2 L88.0,141.2 L92.2,140.8 L96.5,133.3 L107.1,122.6 L117.8,109.9 L122.8,101.0Z" fill="#0ae2fe"/>
<path d="M122.4,82.0 L113.5,92.8 L105.0,103.5 L94.3,118.4 L85.8,129.0 L82.6,135.4 L82.0,141.3 L92.2,140.8 L96.5,133.3 L107.1,122.6 L117.8,109.9 L122.8,101.3Z" fill="#ffffff"/>
<path d="M122.4,85.0 L115.0,94.5 L106.5,105.0 L96.0,120.0 L87.5,130.5 L83.5,137.0 L83.0,141.5 L85.8,141.8 L94.3,131.2 L105.0,120.5 L115.6,107.7 L122.8,99.2Z" fill="#ffc8c8"/>
<path d="M122.4,90.0 L121.0,92.8 L111.4,103.5 L98.6,118.4 L88.0,131.2 L86.5,133.0 L89.5,133.5 L100.5,120.5 L113.0,106.0 L122.4,96.0Z" fill="#ff8585"/>
<path d="M82.0,141.5 L123.0,141.5 L123.0,165.2 L96.4,153.5 L84.7,148.9 L82.0,146.0Z" fill="#ffc8c8"/>
<path d="M92.0,141.3 L123.0,141.3 L123.0,146.5 L108.0,145.0 L92.9,143.0Z" fill="#0ae2fe"/>
<path d="M87.0,143.0 L92.9,143.5 L102.2,145.4 L123.3,148.9 L123.3,159.4 L108.1,154.7 L90.5,148.9 L86.0,146.0Z" fill="#ff8585"/>
<path d="M105.0,149.0 L112.0,150.0 L112.0,152.0 L105.0,151.0Z" fill="#ff4040"/>
<path d="M116.0,151.0 L123.0,152.0 L123.0,155.0 L116.0,154.0Z" fill="#ff4040"/>
<path d="M79.6,148.3 L81.8,147.0 L81.5,156.0 L79.5,163.0 L76.0,170.0 L72.0,178.0 L70.0,186.0 L68.8,196.0 L67.5,210.0 L64.5,218.0 L63.5,217.6 L66.6,208.2 L67.8,198.0 L68.8,187.5 L69.8,177.2 L73.8,168.1 L77.8,158.8Z" fill="#ffc8c8"/>
<path d="M78.5,153.8 L81.1,156.0 L81.0,160.0 L78.0,162.0 L77.8,158.0Z" fill="#ff8585"/>
<path d="M84.2,158.8 L87.0,153.5 L96.4,155.9 L111.6,162.9 L123.0,173.4 L122.8,234.9 L117.8,231.9 L109.8,221.9 L103.9,215.9 L99.9,212.9 L98.9,219.9 L98.9,239.8 L96.8,260.0 L89.9,289.8 L41.4,289.8 L45.6,271.7 L50.0,253.0 L52.3,243.9 L55.6,238.9 L61.6,225.6 L68.3,215.0 L70.0,205.0 L71.0,198.0 L73.0,184.6 L77.0,176.6 L82.3,164.6Z" fill="#0ae2fe"/>
<path d="M90.5,157.0 L105.0,166.0 L123.0,176.0 L122.8,234.9 L117.8,231.9 L109.8,221.9 L103.9,215.9 L99.9,212.9 L98.9,219.9 L98.9,239.8 L96.8,260.0 L89.9,289.8 L43.5,289.8 L47.0,275.0 L51.0,262.0 L54.0,250.0 L57.6,240.2 L63.0,228.2 L69.6,216.3 L72.0,205.0 L74.3,187.2 L79.6,171.3 L84.0,162.0Z" fill="#0ebaf0"/>
<path d="M52.5,241.5 L55.0,240.5 L56.0,245.0 L54.0,247.0 L52.0,245.0Z" fill="#ffffff"/>
<path d="M91.0,160.0 L105.0,169.0 L123.0,179.0 L122.8,234.9 L117.8,231.9 L109.8,221.9 L103.9,215.9 L99.9,212.9 L98.9,219.9 L98.9,239.8 L96.8,260.0 L89.9,289.8 L47.0,289.8 L50.0,275.0 L54.0,262.0 L57.0,252.0 L61.0,242.0 L66.0,231.0 L71.5,219.0 L73.6,195.0 L76.0,188.0 L81.5,172.0 L86.0,164.0Z" fill="#1594e6"/>
<path d="M91.8,163.0 L105.0,171.5 L123.0,181.5 L122.8,234.9 L117.8,231.9 L109.8,221.9 L103.9,215.9 L99.9,212.9 L98.9,219.9 L98.9,239.8 L96.8,260.0 L89.9,289.8 L50.0,289.8 L53.0,275.0 L57.0,262.0 L60.0,252.0 L63.5,243.0 L68.5,233.0 L73.0,222.0 L75.3,200.0 L78.0,190.0 L83.0,174.0 L88.0,165.0Z" fill="#1a7ae0"/>
<path d="M92.3,165.0 L105.0,173.5 L123.0,184.0 L122.8,234.9 L117.8,231.9 L109.8,221.9 L103.9,215.9 L99.9,212.9 L98.9,219.9 L98.9,239.8 L96.8,260.0 L89.9,289.8 L53.0,289.8 L56.0,275.0 L59.5,262.0 L62.0,252.0 L65.5,244.0 L70.5,234.0 L74.5,223.0 L77.0,200.0 L79.5,190.0 L84.5,175.0 L90.0,166.0Z" fill="#1f64dc"/>
<path d="M92.9,166.0 L103.0,172.5 L107.8,180.0 L115.8,192.0 L122.8,206.0 L122.8,234.9 L117.8,231.9 L109.8,221.9 L103.9,215.9 L99.9,212.9 L98.9,219.9 L98.9,239.8 L96.8,260.0 L89.9,289.8 L56.0,289.8 L60.0,270.0 L62.0,255.0 L64.3,245.0 L68.3,233.6 L73.6,224.3 L76.9,215.0 L78.5,205.0 L80.0,195.0 L81.6,186.0 L86.2,174.0Z" fill="#3300c8"/>
<line x1="41" y1="14.5" x2="41" y2="291" stroke="#e6e6e6" stroke-width="1"/>
<line x1="40" y1="14.5" x2="126" y2="14.5" stroke="#d9d9d9" stroke-width="0.8"/>
<line x1="123" y1="14.5" x2="123" y2="291" stroke="#ececec" stroke-width="0.8"/>
<line x1="123" y1="14.3" x2="126" y2="14.3" stroke="#e4e4e4" stroke-width="0.7"/>
<line x1="123" y1="22.6" x2="126" y2="22.6" stroke="#e4e4e4" stroke-width="0.7"/>
<line x1="123" y1="30.9" x2="126" y2="30.9" stroke="#e4e4e4" stroke-width="0.7"/>
<line x1="123" y1="39.2" x2="126" y2="39.2" stroke="#e4e4e4" stroke-width="0.7"/>
<line x1="123" y1="47.5" x2="126" y2="47.5" stroke="#e4e4e4" stroke-width="0.7"/>
<line x1="123" y1="55.7" x2="126" y2="55.7" stroke="#e4e4e4" stroke-width="0.7"/>
<line x1="123" y1="64.0" x2="126" y2="64.0" stroke="#e4e4e4" stroke-width="0.7"/>
<line x1="123" y1="72.3" x2="126" y2="72.3" stroke="#e4e4e4" stroke-width="0.7"/>
<line x1="123" y1="80.6" x2="126" y2="80.6" stroke="#e4e4e4" stroke-width="0.7"/>
<line x1="123" y1="88.9" x2="126" y2="88.9" stroke="#e4e4e4" stroke-width="0.7"/>
<line x1="123" y1="97.2" x2="126" y2="97.2" stroke="#e4e4e4" stroke-width="0.7"/>
<line x1="123" y1="105.5" x2="126" y2="105.5" stroke="#e4e4e4" stroke-width="0.7"/>
<line x1="123" y1="113.8" x2="126" y2="113.8" stroke="#e4e4e4" stroke-width="0.7"/>
<line x1="123" y1="122.0" x2="126" y2="122.0" stroke="#e4e4e4" stroke-width="0.7"/>
<line x1="123" y1="130.3" x2="126" y2="130.3" stroke="#e4e4e4" stroke-width="0.7"/>
<line x1="123" y1="138.6" x2="126" y2="138.6" stroke="#e4e4e4" stroke-width="0.7"/>
<line x1="123" y1="146.9" x2="126" y2="146.9" stroke="#e4e4e4" stroke-width="0.7"/>
<line x1="123" y1="155.2" x2="126" y2="155.2" stroke="#e4e4e4" stroke-width="0.7"/>
<line x1="123" y1="163.5" x2="126" y2="163.5" stroke="#e4e4e4" stroke-width="0.7"/>
<line x1="123" y1="171.8" x2="126" y2="171.8" stroke="#e4e4e4" stroke-width="0.7"/>
<line x1="123" y1="180.1" x2="126" y2="180.1" stroke="#e4e4e4" stroke-width="0.7"/>
<line x1="123" y1="188.3" x2="126" y2="188.3" stroke="#e4e4e4" stroke-width="0.7"/>
<line x1="123" y1="196.6" x2="126" y2="196.6" stroke="#e4e4e4" stroke-width="0.7"/>
<line x1="123" y1="204.9" x2="126" y2="204.9" stroke="#e4e4e4" stroke-width="0.7"/>
<line x1="123" y1="213.2" x2="126" y2="213.2" stroke="#e4e4e4" stroke-width="0.7"/>
<line x1="123" y1="221.5" x2="126" y2="221.5" stroke="#e4e4e4" stroke-width="0.7"/>
<line x1="123" y1="229.8" x2="126" y2="229.8" stroke="#e4e4e4" stroke-width="0.7"/>
<line x1="123" y1="238.1" x2="126" y2="238.1" stroke="#e4e4e4" stroke-width="0.7"/>
<line x1="123" y1="246.4" x2="126" y2="246.4" stroke="#e4e4e4" stroke-width="0.7"/>
<line x1="123" y1="254.7" x2="126" y2="254.7" stroke="#e4e4e4" stroke-width="0.7"/>
<line x1="123" y1="262.9" x2="126" y2="262.9" stroke="#e4e4e4" stroke-width="0.7"/>
<line x1="123" y1="271.2" x2="126" y2="271.2" stroke="#e4e4e4" stroke-width="0.7"/>
<line x1="123" y1="279.5" x2="126" y2="279.5" stroke="#e4e4e4" stroke-width="0.7"/>
<line x1="41.5" y1="290.5" x2="41.5" y2="293" stroke="#e8e8e8" stroke-width="0.6"/>
<line x1="61.8" y1="290.5" x2="61.8" y2="293" stroke="#e8e8e8" stroke-width="0.6"/>
<line x1="82.0" y1="290.5" x2="82.0" y2="293" stroke="#e8e8e8" stroke-width="0.6"/>
<line x1="102.2" y1="290.5" x2="102.2" y2="293" stroke="#e8e8e8" stroke-width="0.6"/>
<line x1="122.5" y1="290.5" x2="122.5" y2="293" stroke="#e8e8e8" stroke-width="0.6"/>
<line x1="37.5" y1="14.3" x2="40.5" y2="14.3" stroke="#bbb" stroke-width="0.7"/>
<text class="sans" x="0" y="0" font-size="8.7" text-anchor="end" transform="translate(37.65,17.40) scale(0.92,1)">3840</text>
<line x1="37.5" y1="55.7" x2="40.5" y2="55.7" stroke="#bbb" stroke-width="0.7"/>
<text class="sans" x="0" y="0" font-size="8.7" text-anchor="end" transform="translate(37.65,58.84) scale(0.92,1)">3820</text>
<line x1="37.5" y1="97.2" x2="40.5" y2="97.2" stroke="#bbb" stroke-width="0.7"/>
<text class="sans" x="0" y="0" font-size="8.7" text-anchor="end" transform="translate(37.65,100.28) scale(0.92,1)">3800</text>
<line x1="37.5" y1="138.6" x2="40.5" y2="138.6" stroke="#bbb" stroke-width="0.7"/>
<text class="sans" x="0" y="0" font-size="8.7" text-anchor="end" transform="translate(37.65,141.72) scale(0.92,1)">3780</text>
<line x1="37.5" y1="180.1" x2="40.5" y2="180.1" stroke="#bbb" stroke-width="0.7"/>
<text class="sans" x="0" y="0" font-size="8.7" text-anchor="end" transform="translate(37.65,183.16) scale(0.92,1)">3760</text>
<line x1="37.5" y1="221.5" x2="40.5" y2="221.5" stroke="#bbb" stroke-width="0.7"/>
<text class="sans" x="0" y="0" font-size="8.7" text-anchor="end" transform="translate(37.65,224.60) scale(0.92,1)">3740</text>
<line x1="37.5" y1="262.9" x2="40.5" y2="262.9" stroke="#bbb" stroke-width="0.7"/>
<text class="sans" x="0" y="0" font-size="8.7" text-anchor="end" transform="translate(37.65,266.04) scale(0.92,1)">3720</text>
<text class="serif" x="0" y="0" font-size="8" text-anchor="middle" transform="translate(41.50,301.8) scale(0.9,1)">0</text>
<text class="serif" x="0" y="0" font-size="8" text-anchor="middle" transform="translate(61.75,301.8) scale(0.9,1)">10</text>
<text class="serif" x="0" y="0" font-size="8" text-anchor="middle" transform="translate(82.00,301.8) scale(0.9,1)">20</text>
<text class="serif" x="0" y="0" font-size="8" text-anchor="middle" transform="translate(102.25,301.8) scale(0.9,1)">30</text>
<text class="serif" x="0" y="0" font-size="8" text-anchor="middle" transform="translate(122.50,301.8) scale(0.9,1)">40</text>
<text class="serif" x="82.2" y="315.8" font-size="8.8" text-anchor="middle">Distance (m)</text>
<text class="serif" x="54.1" y="13.4" font-size="13" textLength="52.2" lengthAdjust="spacingAndGlyphs">17/09/2021</text>
<path d="M114.0,15 L122.5,15 L122.5,141.2 L82,141.2 M114.0,15 L112.5,131.2 L83.8,131.2 L81.9,141.2" fill="none" stroke="#111" stroke-width="1"/>
<circle cx="108.6" cy="16.25" r="1.55" fill="#000"/>
<circle cx="117" cy="15.4" r="1.55" fill="#000"/>
<circle cx="102.4" cy="22.1" r="1.55" fill="#000"/>
<circle cx="99.5" cy="31.6" r="1.55" fill="#000"/>
<circle cx="98.4" cy="41.5" r="1.55" fill="#000"/>
<circle cx="97.6" cy="51" r="1.55" fill="#000"/>
<circle cx="96.5" cy="61.4" r="1.55" fill="#000"/>
<circle cx="94.6" cy="71.1" r="1.55" fill="#000"/>
<circle cx="93.3" cy="80.5" r="1.55" fill="#000"/>
<circle cx="91.3" cy="90.1" r="1.55" fill="#000"/>
<circle cx="88" cy="99.5" r="1.55" fill="#000"/>
<circle cx="86.5" cy="109.25" r="1.55" fill="#000"/>
<circle cx="84.5" cy="119" r="1.55" fill="#000"/>
<circle cx="84" cy="129" r="1.55" fill="#000"/>
<circle cx="81.5" cy="138.4" r="1.55" fill="#000"/>
<circle cx="79.6" cy="148.3" r="1.55" fill="#000"/>
<circle cx="77.75" cy="158.75" r="1.55" fill="#000"/>
<circle cx="73.75" cy="168.1" r="1.55" fill="#000"/>
<circle cx="69.75" cy="177.25" r="1.55" fill="#000"/>
<circle cx="68.75" cy="187.5" r="1.55" fill="#000"/>
<circle cx="67.75" cy="198" r="1.55" fill="#000"/>
<circle cx="66.6" cy="208.25" r="1.55" fill="#000"/>
<circle cx="63.5" cy="217.6" r="1.55" fill="#000"/>
<circle cx="59.4" cy="224.9" r="1.55" fill="#000"/>
<circle cx="55.25" cy="234.3" r="1.55" fill="#000"/>
<circle cx="52.5" cy="243.75" r="1.55" fill="#000"/>
<circle cx="50" cy="253" r="1.55" fill="#000"/>
<circle cx="47.7" cy="262.6" r="1.55" fill="#000"/>
<circle cx="45.6" cy="271.7" r="1.55" fill="#000"/>
<circle cx="43.5" cy="280.8" r="1.55" fill="#000"/>
<circle cx="41.4" cy="290.6" r="1.55" fill="#000"/>
</g>
<g transform="translate(368.5,0)">
<path d="M41.4,290.6 L43.5,280.8 L45.6,271.7 L47.7,262.6 L50.0,253.0 L52.5,243.8 L55.2,234.3 L59.4,224.9 L63.5,217.6 L66.6,208.2 L67.8,198.0 L68.8,187.5 L69.8,177.2 L73.8,168.1 L77.8,158.8 L79.6,148.3 L81.5,138.4 L84.0,129.0 L84.5,119.0 L86.5,109.2 L88.0,99.5 L91.3,90.1 L93.3,80.5 L94.6,71.1 L96.5,61.4 L97.6,51.0 L98.4,41.5 L99.5,31.6 L102.4,22.1 L108.6,16.2 L108.6,15.2 L123.0,15.2 L122.8,234.9 L118.3,232.9 L111.3,223.9 L104.3,215.9 L99.4,212.9 L98.4,219.9 L97.4,239.8 L95.3,270.0 L89.4,289.8 L41.4,289.8Z" fill="#ffffff"/>
<path d="M108.6,16.2 L102.4,22.1 L99.5,31.6 L98.4,41.5 L97.6,51.0 L96.5,61.4 L94.6,71.1 L93.3,80.5 L91.3,90.1 L88.4,97.0 L91.0,94.0 L94.0,89.0 L95.5,80.0 L97.5,66.0 L99.0,57.0 L100.5,45.0 L102.0,35.0 L104.0,26.0 L107.0,18.0Z" fill="#ffc8c8"/>
<path d="M106.2,18.8 L110.0,22.0 L113.0,28.0 L114.5,35.0 L114.5,60.0 L114.5,80.0 L114.5,100.0 L113.0,105.0 L104.0,117.0 L95.0,126.0 L86.0,134.0 L83.8,141.5 L81.5,138.4 L84.0,129.0 L84.5,119.0 L86.5,109.2 L88.8,98.2 L95.0,88.2 L97.5,75.8 L100.0,57.0 L101.9,41.2 L104.4,28.8Z" fill="#0ae2fe"/>
<path d="M108.1,26.2 L112.0,30.0 L114.5,36.0 L114.5,50.0 L114.5,75.0 L113.9,90.0 L110.0,97.0 L104.0,103.0 L98.0,110.0 L92.0,118.0 L88.0,126.0 L85.0,131.0 L86.5,119.0 L88.5,109.0 L92.5,104.0 L95.0,94.5 L98.8,82.0 L101.9,57.0 L103.0,45.0 L105.0,34.0Z" fill="#0ebaf0"/>
<path d="M108.6,28.8 L114.8,38.0 L114.8,85.0 L111.0,93.0 L104.0,99.0 L97.5,106.0 L92.0,113.0 L88.0,120.0 L86.0,126.0 L88.0,112.0 L92.0,106.0 L97.5,97.0 L100.0,82.0 L103.1,57.0 L104.5,45.0 L106.0,37.0Z" fill="#1594e6"/>
<path d="M109.3,32.5 L114.8,40.0 L114.8,75.0 L112.0,86.0 L107.0,92.0 L101.0,96.0 L99.0,92.0 L100.6,80.0 L103.8,60.0 L105.0,48.0 L107.0,40.0Z" fill="#1a7ae0"/>
<path d="M110.0,36.2 L114.8,42.0 L114.8,65.0 L112.0,80.0 L106.0,90.0 L102.0,92.5 L100.3,88.0 L102.0,72.0 L104.6,57.0 L106.0,48.0 L108.0,41.0Z" fill="#1f64dc"/>
<path d="M110.6,37.0 L114.5,39.0 L114.5,55.0 L113.5,60.0 L111.2,69.5 L108.8,82.0 L106.0,90.0 L103.8,93.2 L101.2,90.8 L100.6,82.0 L103.1,69.5 L105.6,57.0 L107.5,45.0Z" fill="#3300c8"/>
<path d="M86.0,124.0 L88.0,125.0 L87.0,131.0 L84.0,131.0Z" fill="#1f64dc"/>
<path d="M84.5,127.0 L86.5,128.0 L86.0,131.5 L84.0,131.0Z" fill="#3300c8"/>
<path d="M114.5,15.2 L123.0,15.2 L123.0,104.0 L114.5,104.0Z" fill="#ffffff"/>
<path d="M115.0,15.2 L119.5,15.2 L122.8,24.0 L122.8,33.0 L120.0,30.0 L116.5,22.0Z" fill="#ffc8c8"/>
<path d="M117.0,19.0 L119.0,20.0 L122.0,27.0 L122.0,31.0 L119.5,29.0Z" fill="#ff8585"/>
<path d="M119.5,15.2 L123.0,15.2 L123.0,21.0 L121.0,19.0Z" fill="#0ae2fe"/>
<path d="M114.5,29.0 L115.7,30.5 L119.0,33.0 L122.0,39.0 L122.0,68.0 L118.0,80.0 L114.5,92.0Z" fill="#0ae2fe"/>
<path d="M114.5,34.0 L117.0,36.5 L120.0,42.0 L121.0,55.0 L120.5,66.0 L117.0,74.0 L114.5,78.0Z" fill="#0ebaf0"/>
<path d="M119.0,60.0 L122.9,62.0 L122.9,92.0 L118.0,96.0 L116.0,92.0 L118.0,80.0Z" fill="#ffc8c8"/>
<path d="M123.0,100.0 L123.0,141.2 L88.0,141.2 L90.2,139.7 L95.8,134.1 L105.1,126.6 L114.4,117.3 L122.8,104.3Z" fill="#0ae2fe"/>
<path d="M122.9,89.0 L121.9,91.2 L112.5,102.4 L103.2,113.6 L93.9,122.9 L84.6,130.4 L82.5,136.0 L82.0,141.3 L88.0,141.2 L90.2,139.7 L95.8,134.1 L105.1,126.6 L114.4,117.3 L122.8,104.3Z" fill="#ffffff"/>
<path d="M122.9,91.5 L113.5,104.0 L104.0,115.5 L94.5,125.0 L86.0,132.5 L83.0,138.0 L83.0,141.3 L87.5,139.0 L94.8,132.8 L104.2,124.8 L113.5,115.5 L122.9,102.5Z" fill="#ffc8c8"/>
<path d="M122.9,94.5 L114.4,106.0 L105.1,115.5 L95.8,124.8 L88.3,130.5 L86.5,133.5 L89.0,133.0 L96.5,128.0 L106.0,119.0 L115.0,110.0 L122.9,99.0Z" fill="#ff8585"/>
<path d="M83.9,141.3 L123.2,141.3 L123.2,161.5 L104.0,156.2 L93.5,150.9 L86.0,145.0Z" fill="#ffc8c8"/>
<path d="M91.3,142.4 L104.0,144.5 L123.2,145.6 L123.2,157.3 L109.4,154.0 L96.6,149.8 L90.0,145.0Z" fill="#ff8585"/>
<path d="M108.4,146.6 L115.0,147.5 L120.0,148.5 L120.0,150.4 L112.0,150.0 L108.4,148.5Z" fill="#ff4040"/>
<path d="M84.0,143.0 L86.0,145.0 L93.5,150.9 L104.0,156.2 L123.2,161.5 L123.2,166.9 L112.6,163.7 L102.0,158.3 L93.5,152.0 L85.0,146.0Z" fill="#ffffff"/>
<path d="M79.6,148.3 L77.8,158.8 L73.8,168.1 L69.8,177.2 L68.8,187.5 L67.8,198.0 L66.6,208.2 L63.5,217.6 L64.5,218.0 L67.5,210.0 L69.0,196.0 L70.5,186.0 L73.0,177.0 L76.5,172.0 L80.5,165.0 L81.0,156.0 L80.0,150.0Z" fill="#ffc8c8"/>
<path d="M78.5,156.0 L80.5,158.0 L80.0,165.0 L78.0,167.0 L77.8,160.0Z" fill="#ffffff"/>
<path d="M81.5,140.0 L82.5,143.8 L85.0,146.0 L93.5,152.0 L102.0,158.3 L112.6,163.7 L123.2,166.9 L122.8,234.9 L118.3,232.9 L111.3,223.9 L104.3,215.9 L99.4,212.9 L98.4,219.9 L97.4,239.8 L95.3,270.0 L89.4,289.8 L41.4,289.8 L45.6,271.7 L50.0,253.0 L55.2,234.3 L63.5,217.6 L65.5,219.0 L68.5,210.0 L70.5,196.0 L73.0,186.0 L76.0,178.0 L80.0,174.0 L83.0,166.0 L83.5,156.0 L82.0,149.0 L80.5,146.0Z" fill="#0ae2fe"/>
<path d="M83.9,146.6 L93.5,153.0 L104.0,161.5 L123.2,171.1 L122.8,234.9 L118.3,232.9 L111.3,223.9 L104.3,215.9 L99.4,212.9 L98.4,219.9 L97.4,239.8 L95.3,270.0 L89.4,289.8 L41.4,289.8 L45.6,271.7 L50.0,253.0 L58.0,232.0 L65.0,223.0 L70.0,212.0 L72.0,200.0 L76.0,186.0 L80.5,176.0 L83.5,168.0 L84.5,156.0Z" fill="#0ebaf0"/>
<path d="M52.0,239.0 L56.0,236.0 L60.0,238.0 L60.5,247.0 L58.0,252.0 L53.0,251.0 L51.0,246.0Z" fill="#0ae2fe"/>
<path d="M53.3,241.0 L57.0,240.0 L58.5,245.0 L57.0,249.0 L54.0,248.0Z" fill="#ffffff"/>
<path d="M84.5,151.0 L98.8,159.4 L123.2,173.2 L122.8,234.9 L118.3,232.9 L111.3,223.9 L104.3,215.9 L99.4,212.9 L98.4,219.9 L97.4,239.8 L95.3,270.0 L89.4,289.8 L81.0,289.8 L78.0,275.0 L74.1,250.0 L75.4,230.0 L75.4,210.0 L76.0,195.0 L80.0,175.0Z" fill="#1594e6"/>
<path d="M85.5,154.0 L100.0,162.0 L123.2,175.5 L122.8,234.9 L118.3,232.9 L111.3,223.9 L104.3,215.9 L99.4,212.9 L98.4,219.9 L97.4,239.8 L95.3,270.0 L89.4,289.8 L84.5,289.8 L82.0,275.0 L80.0,250.0 L78.0,230.0 L77.5,210.0 L78.0,195.0 L81.5,178.0Z" fill="#1a7ae0"/>
<path d="M86.0,156.5 L100.0,164.5 L123.2,178.0 L122.8,234.9 L118.3,232.9 L111.3,223.9 L104.3,215.9 L99.4,212.9 L98.4,219.9 L97.4,239.8 L95.3,270.0 L89.4,289.8 L86.5,289.8 L84.0,275.0 L82.0,255.0 L80.5,230.0 L78.4,210.0 L78.4,198.0 L82.0,176.0Z" fill="#1f64dc"/>
<path d="M91.3,157.3 L104.0,168.0 L111.2,177.5 L117.3,192.0 L122.3,206.0 L122.8,234.9 L118.3,232.9 L111.3,223.9 L104.3,215.9 L99.4,212.9 L98.4,219.9 L97.4,239.8 L95.3,270.0 L89.4,289.8 L88.4,289.8 L84.4,270.0 L81.4,240.0 L82.4,225.0 L79.4,220.0 L78.4,200.0 L80.0,187.0 L85.0,171.2Z" fill="#3300c8"/>
<path d="M49.5,252.0 L54.0,255.0 L57.5,262.0 L59.0,272.0 L58.0,282.0 L56.5,289.8 L41.2,289.8 L43.3,281.4 L45.6,271.9 L47.3,262.5Z" fill="#1594e6"/>
<path d="M48.0,261.0 L53.0,262.0 L56.5,268.0 L57.0,278.0 L55.0,289.8 L41.2,289.8 L43.3,281.4 L45.6,271.9Z" fill="#1a7ae0"/>
<path d="M47.0,265.0 L54.0,265.5 L55.5,272.0 L54.5,282.0 L51.0,289.8 L41.2,289.8 L43.3,281.4 L45.6,271.9Z" fill="#1f64dc"/>
<path d="M45.6,268.0 L54.2,269.8 L52.5,278.4 L48.1,287.0 L46.0,289.8 L41.2,289.8 L43.3,281.4 L45.6,271.9Z" fill="#3300c8"/>
<line x1="41" y1="14.5" x2="41" y2="291" stroke="#e6e6e6" stroke-width="1"/>
<line x1="40" y1="14.5" x2="126" y2="14.5" stroke="#d9d9d9" stroke-width="0.8"/>
<line x1="123" y1="14.5" x2="123" y2="291" stroke="#ececec" stroke-width="0.8"/>
<line x1="123" y1="14.3" x2="126" y2="14.3" stroke="#e4e4e4" stroke-width="0.7"/>
<line x1="123" y1="22.6" x2="126" y2="22.6" stroke="#e4e4e4" stroke-width="0.7"/>
<line x1="123" y1="30.9" x2="126" y2="30.9" stroke="#e4e4e4" stroke-width="0.7"/>
<line x1="123" y1="39.2" x2="126" y2="39.2" stroke="#e4e4e4" stroke-width="0.7"/>
<line x1="123" y1="47.5" x2="126" y2="47.5" stroke="#e4e4e4" stroke-width="0.7"/>
<line x1="123" y1="55.7" x2="126" y2="55.7" stroke="#e4e4e4" stroke-width="0.7"/>
<line x1="123" y1="64.0" x2="126" y2="64.0" stroke="#e4e4e4" stroke-width="0.7"/>
<line x1="123" y1="72.3" x2="126" y2="72.3" stroke="#e4e4e4" stroke-width="0.7"/>
<line x1="123" y1="80.6" x2="126" y2="80.6" stroke="#e4e4e4" stroke-width="0.7"/>
<line x1="123" y1="88.9" x2="126" y2="88.9" stroke="#e4e4e4" stroke-width="0.7"/>
<line x1="123" y1="97.2" x2="126" y2="97.2" stroke="#e4e4e4" stroke-width="0.7"/>
<line x1="123" y1="105.5" x2="126" y2="105.5" stroke="#e4e4e4" stroke-width="0.7"/>
<line x1="123" y1="113.8" x2="126" y2="113.8" stroke="#e4e4e4" stroke-width="0.7"/>
<line x1="123" y1="122.0" x2="126" y2="122.0" stroke="#e4e4e4" stroke-width="0.7"/>
<line x1="123" y1="130.3" x2="126" y2="130.3" stroke="#e4e4e4" stroke-width="0.7"/>
<line x1="123" y1="138.6" x2="126" y2="138.6" stroke="#e4e4e4" stroke-width="0.7"/>
<line x1="123" y1="146.9" x2="126" y2="146.9" stroke="#e4e4e4" stroke-width="0.7"/>
<line x1="123" y1="155.2" x2="126" y2="155.2" stroke="#e4e4e4" stroke-width="0.7"/>
<line x1="123" y1="163.5" x2="126" y2="163.5" stroke="#e4e4e4" stroke-width="0.7"/>
<line x1="123" y1="171.8" x2="126" y2="171.8" stroke="#e4e4e4" stroke-width="0.7"/>
<line x1="123" y1="180.1" x2="126" y2="180.1" stroke="#e4e4e4" stroke-width="0.7"/>
<line x1="123" y1="188.3" x2="126" y2="188.3" stroke="#e4e4e4" stroke-width="0.7"/>
<line x1="123" y1="196.6" x2="126" y2="196.6" stroke="#e4e4e4" stroke-width="0.7"/>
<line x1="123" y1="204.9" x2="126" y2="204.9" stroke="#e4e4e4" stroke-width="0.7"/>
<line x1="123" y1="213.2" x2="126" y2="213.2" stroke="#e4e4e4" stroke-width="0.7"/>
<line x1="123" y1="221.5" x2="126" y2="221.5" stroke="#e4e4e4" stroke-width="0.7"/>
<line x1="123" y1="229.8" x2="126" y2="229.8" stroke="#e4e4e4" stroke-width="0.7"/>
<line x1="123" y1="238.1" x2="126" y2="238.1" stroke="#e4e4e4" stroke-width="0.7"/>
<line x1="123" y1="246.4" x2="126" y2="246.4" stroke="#e4e4e4" stroke-width="0.7"/>
<line x1="123" y1="254.7" x2="126" y2="254.7" stroke="#e4e4e4" stroke-width="0.7"/>
<line x1="123" y1="262.9" x2="126" y2="262.9" stroke="#e4e4e4" stroke-width="0.7"/>
<line x1="123" y1="271.2" x2="126" y2="271.2" stroke="#e4e4e4" stroke-width="0.7"/>
<line x1="123" y1="279.5" x2="126" y2="279.5" stroke="#e4e4e4" stroke-width="0.7"/>
<line x1="41.5" y1="290.5" x2="41.5" y2="293" stroke="#e8e8e8" stroke-width="0.6"/>
<line x1="61.8" y1="290.5" x2="61.8" y2="293" stroke="#e8e8e8" stroke-width="0.6"/>
<line x1="82.0" y1="290.5" x2="82.0" y2="293" stroke="#e8e8e8" stroke-width="0.6"/>
<line x1="102.2" y1="290.5" x2="102.2" y2="293" stroke="#e8e8e8" stroke-width="0.6"/>
<line x1="122.5" y1="290.5" x2="122.5" y2="293" stroke="#e8e8e8" stroke-width="0.6"/>
<line x1="37.5" y1="14.3" x2="40.5" y2="14.3" stroke="#bbb" stroke-width="0.7"/>
<text class="sans" x="0" y="0" font-size="8.7" text-anchor="end" transform="translate(37.65,17.40) scale(0.92,1)">3840</text>
<line x1="37.5" y1="55.7" x2="40.5" y2="55.7" stroke="#bbb" stroke-width="0.7"/>
<text class="sans" x="0" y="0" font-size="8.7" text-anchor="end" transform="translate(37.65,58.84) scale(0.92,1)">3820</text>
<line x1="37.5" y1="97.2" x2="40.5" y2="97.2" stroke="#bbb" stroke-width="0.7"/>
<text class="sans" x="0" y="0" font-size="8.7" text-anchor="end" transform="translate(37.65,100.28) scale(0.92,1)">3800</text>
<line x1="37.5" y1="138.6" x2="40.5" y2="138.6" stroke="#bbb" stroke-width="0.7"/>
<text class="sans" x="0" y="0" font-size="8.7" text-anchor="end" transform="translate(37.65,141.72) scale(0.92,1)">3780</text>
<line x1="37.5" y1="180.1" x2="40.5" y2="180.1" stroke="#bbb" stroke-width="0.7"/>
<text class="sans" x="0" y="0" font-size="8.7" text-anchor="end" transform="translate(37.65,183.16) scale(0.92,1)">3760</text>
<line x1="37.5" y1="221.5" x2="40.5" y2="221.5" stroke="#bbb" stroke-width="0.7"/>
<text class="sans" x="0" y="0" font-size="8.7" text-anchor="end" transform="translate(37.65,224.60) scale(0.92,1)">3740</text>
<line x1="37.5" y1="262.9" x2="40.5" y2="262.9" stroke="#bbb" stroke-width="0.7"/>
<text class="sans" x="0" y="0" font-size="8.7" text-anchor="end" transform="translate(37.65,266.04) scale(0.92,1)">3720</text>
<text class="serif" x="0" y="0" font-size="8" text-anchor="middle" transform="translate(41.50,301.8) scale(0.9,1)">0</text>
<text class="serif" x="0" y="0" font-size="8" text-anchor="middle" transform="translate(61.75,301.8) scale(0.9,1)">10</text>
<text class="serif" x="0" y="0" font-size="8" text-anchor="middle" transform="translate(82.00,301.8) scale(0.9,1)">20</text>
<text class="serif" x="0" y="0" font-size="8" text-anchor="middle" transform="translate(102.25,301.8) scale(0.9,1)">30</text>
<text class="serif" x="0" y="0" font-size="8" text-anchor="middle" transform="translate(122.50,301.8) scale(0.9,1)">40</text>
<text class="serif" x="82.2" y="315.8" font-size="8.8" text-anchor="middle">Distance (m)</text>
<text class="serif" x="54.9" y="13.4" font-size="13" textLength="52.2" lengthAdjust="spacingAndGlyphs">30/06/2022</text>
<path d="M114.6,15 L123.0,15 L123.0,141.2 L82,141.2 M114.6,15 L113.1,131.2 L83.8,131.2 L81.9,141.2" fill="none" stroke="#111" stroke-width="1"/>
<circle cx="108.6" cy="16.25" r="1.55" fill="#000"/>
<circle cx="117" cy="15.4" r="1.55" fill="#000"/>
<circle cx="102.4" cy="22.1" r="1.55" fill="#000"/>
<circle cx="99.5" cy="31.6" r="1.55" fill="#000"/>
<circle cx="98.4" cy="41.5" r="1.55" fill="#000"/>
<circle cx="97.6" cy="51" r="1.55" fill="#000"/>
<circle cx="96.5" cy="61.4" r="1.55" fill="#000"/>
<circle cx="94.6" cy="71.1" r="1.55" fill="#000"/>
<circle cx="93.3" cy="80.5" r="1.55" fill="#000"/>
<circle cx="91.3" cy="90.1" r="1.55" fill="#000"/>
<circle cx="88" cy="99.5" r="1.55" fill="#000"/>
<circle cx="86.5" cy="109.25" r="1.55" fill="#000"/>
<circle cx="84.5" cy="119" r="1.55" fill="#000"/>
<circle cx="84" cy="129" r="1.55" fill="#000"/>
<circle cx="81.5" cy="138.4" r="1.55" fill="#000"/>
<circle cx="79.6" cy="148.3" r="1.55" fill="#000"/>
<circle cx="77.75" cy="158.75" r="1.55" fill="#000"/>
<circle cx="73.75" cy="168.1" r="1.55" fill="#000"/>
<circle cx="69.75" cy="177.25" r="1.55" fill="#000"/>
<circle cx="68.75" cy="187.5" r="1.55" fill="#000"/>
<circle cx="67.75" cy="198" r="1.55" fill="#000"/>
<circle cx="66.6" cy="208.25" r="1.55" fill="#000"/>
<circle cx="63.5" cy="217.6" r="1.55" fill="#000"/>
<circle cx="59.4" cy="224.9" r="1.55" fill="#000"/>
<circle cx="55.25" cy="234.3" r="1.55" fill="#000"/>
<circle cx="52.5" cy="243.75" r="1.55" fill="#000"/>
<circle cx="50" cy="253" r="1.55" fill="#000"/>
<circle cx="47.7" cy="262.6" r="1.55" fill="#000"/>
<circle cx="45.6" cy="271.7" r="1.55" fill="#000"/>
<circle cx="43.5" cy="280.8" r="1.55" fill="#000"/>
<circle cx="41.4" cy="290.6" r="1.55" fill="#000"/>
</g>
<text class="serif" x="0" y="0" font-size="10.3" transform="translate(12.9,179.5) rotate(-90)" textLength="56" lengthAdjust="spacingAndGlyphs">Elevation (m)</text>
<rect x="115.90" y="342.8" width="104.37" height="14.1" fill="#3300c8"/>
<rect x="220.27" y="342.8" width="21.27" height="14.1" fill="#1f64dc"/>
<rect x="241.14" y="342.8" width="21.27" height="14.1" fill="#1a7ae0"/>
<rect x="262.01" y="342.8" width="21.27" height="14.1" fill="#1594e6"/>
<rect x="282.89" y="342.8" width="21.27" height="14.1" fill="#0ebaf0"/>
<rect x="303.76" y="342.8" width="21.27" height="14.1" fill="#0ae2fe"/>
<rect x="324.63" y="342.8" width="21.27" height="14.1" fill="#ffffff"/>
<rect x="345.51" y="342.8" width="21.27" height="14.1" fill="#ffc8c8"/>
<rect x="366.38" y="342.8" width="21.27" height="14.1" fill="#ff8585"/>
<rect x="387.25" y="342.8" width="21.27" height="14.1" fill="#ff4040"/>
<rect x="408.13" y="342.8" width="21.27" height="14.1" fill="#ff0000"/>
<line x1="324.63" y1="343.2" x2="345.51" y2="343.2" stroke="#e6e6e6" stroke-width="0.8"/>
<line x1="324.63" y1="356.5" x2="345.51" y2="356.5" stroke="#e6e6e6" stroke-width="0.8"/>
<text class="sans" x="115.9" y="370.7" font-size="9.8" text-anchor="middle">-10</text>
<text class="sans" x="136.8" y="370.7" font-size="9.8" text-anchor="middle">-9</text>
<text class="sans" x="157.6" y="370.7" font-size="9.8" text-anchor="middle">-8</text>
<text class="sans" x="178.5" y="370.7" font-size="9.8" text-anchor="middle">-7</text>
<text class="sans" x="199.4" y="370.7" font-size="9.8" text-anchor="middle">-6</text>
<text class="sans" x="220.3" y="370.7" font-size="9.8" text-anchor="middle">-5</text>
<text class="sans" x="241.1" y="370.7" font-size="9.8" text-anchor="middle">-4</text>
<text class="sans" x="262.0" y="370.7" font-size="9.8" text-anchor="middle">-3</text>
<text class="sans" x="282.9" y="370.7" font-size="9.8" text-anchor="middle">-2</text>
<text class="sans" x="303.8" y="370.7" font-size="9.8" text-anchor="middle">-1</text>
<text class="sans" x="324.6" y="370.7" font-size="9.8" text-anchor="middle">0</text>
<text class="sans" x="345.5" y="370.7" font-size="9.8" text-anchor="middle">1</text>
<text class="sans" x="366.4" y="370.7" font-size="9.8" text-anchor="middle">2</text>
<text class="sans" x="387.3" y="370.7" font-size="9.8" text-anchor="middle">3</text>
<text class="sans" x="408.1" y="370.7" font-size="9.8" text-anchor="middle">4</text>
<text class="serif" x="221.5" y="336.7" font-size="13.6">Temperature (°C)</text>
</svg></body></html>
